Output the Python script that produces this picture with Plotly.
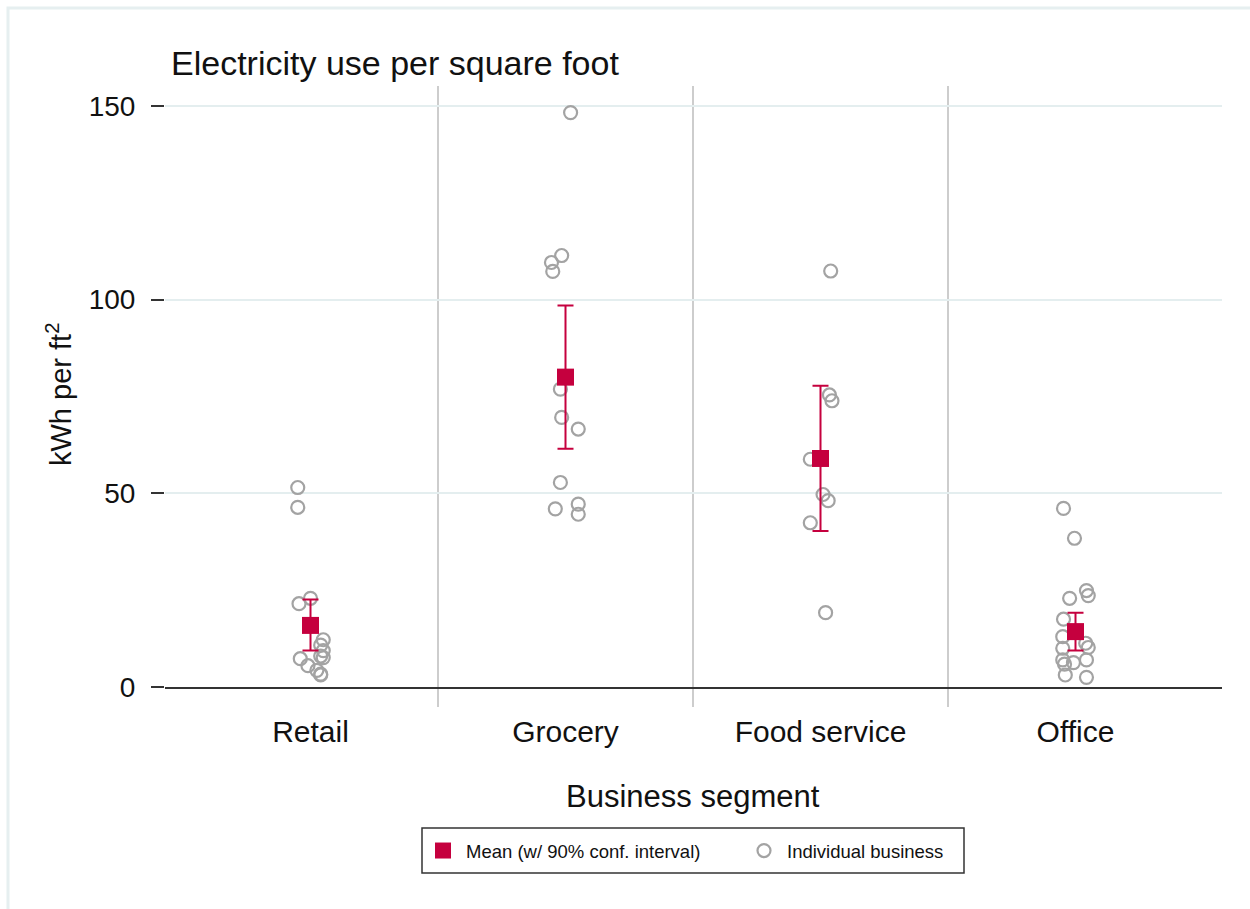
import plotly.graph_objects as go

# Business segments (x positions 0..3)
segments = ["Retail", "Grocery", "Food service", "Office"]

# Individual businesses: kWh per ft² and a small horizontal jitter within the segment
retail_vals = [51.5, 46.4, 21.5, 22.9, 12.2, 10.8, 9.4, 8.0, 7.6, 7.3, 5.5, 4.3, 3.3, 3.1]
retail_jit = [-0.05, -0.05, -0.045, 0.0, 0.05, 0.04, 0.05, 0.04, 0.05, -0.04, -0.01, 0.025, 0.04, 0.04]

grocery_vals = [148.3, 111.4, 109.6, 107.3, 76.9, 69.6, 66.6, 52.8, 46.0, 47.2, 44.6]
grocery_jit = [0.02, -0.015, -0.055, -0.05, -0.02, -0.015, 0.05, -0.02, -0.04, 0.05, 0.05]

food_vals = [107.4, 75.4, 73.9, 58.8, 49.7, 48.1, 42.4, 19.2]
food_jit = [0.04, 0.035, 0.045, -0.04, 0.01, 0.03, -0.04, 0.02]

office_vals = [46.1, 38.4, 24.9, 23.6, 22.9, 17.5, 13.0, 11.3, 10.2, 10.0, 7.0, 7.0, 6.3, 5.9, 3.1, 2.5]
office_jit = [-0.047, -0.004, 0.043, 0.05, -0.023, -0.047, -0.05, 0.04, 0.05, -0.05, -0.05, 0.043, -0.008, -0.043, -0.04, 0.043]

# Segment means with 90% confidence interval
mean_vals = [15.9, 80.0, 59.0, 14.3]
ci_low = [9.4, 61.5, 40.3, 9.4]
ci_high = [22.6, 98.5, 77.8, 19.2]

y_ticks = [0, 50, 100, 150]

FONT = "Liberation Sans, Arial, sans-serif"
RED = "#C5003E"
GREY = "#A3A3A3"

# Flatten the individual businesses into one trace
pts_x, pts_y = [], []
for i, (vals, jit) in enumerate([(retail_vals, retail_jit), (grocery_vals, grocery_jit),
                                 (food_vals, food_jit), (office_vals, office_jit)]):
    for v, j in zip(vals, jit):
        pts_x.append(i + j)
        pts_y.append(v)

fig = go.Figure()

fig.add_trace(go.Scatter(
    x=pts_x, y=pts_y, mode="markers", name="Individual business",
    marker=dict(symbol="circle-open", size=13, color=GREY, line=dict(width=2.2, color=GREY)),
    legendrank=2, hoverinfo="y",
))

fig.add_trace(go.Scatter(
    x=list(range(len(segments))), y=mean_vals, mode="markers",
    name="Mean (w/ 90% conf. interval)",
    marker=dict(symbol="square", size=17, color=RED),
    error_y=dict(type="data", symmetric=False,
                 array=[h - m for h, m in zip(ci_high, mean_vals)],
                 arrayminus=[m - l for m, l in zip(mean_vals, ci_low)],
                 color=RED, thickness=2, width=8),
    legendrank=1,
))

# Plot area in pixels: left 165, right 1222, top 86, bottom 687
L, R, T, B = 165, 1222, 86, 687
W, H = 1250, 909
pw, ph = R - L, B - T


def px_x(p):
    return (p - L) / pw


def px_y(p):
    return (B - p) / ph


shapes = []
# Segment separators
for s in [0.5, 1.5, 2.5]:
    shapes.append(dict(type="line", xref="x", yref="paper", x0=s, x1=s,
                       y0=px_y(707), y1=1, line=dict(color="#BDBDBD", width=1.5), layer="below"))
# Outer frame
shapes.append(dict(type="rect", xref="paper", yref="paper",
                   x0=px_x(8), x1=px_x(1262), y0=px_y(8), y1=px_y(921),
                   line=dict(color="#E6EFF0", width=3), fillcolor="rgba(0,0,0,0)", layer="below"))
# Legend box
shapes.append(dict(type="rect", xref="paper", yref="paper",
                   x0=px_x(422), x1=px_x(964), y0=px_y(828), y1=px_y(873),
                   line=dict(color="#333", width=1.5), fillcolor="white", layer="below"))

annotations = [
    dict(text="Electricity use per square foot", xref="paper", yref="paper",
         x=px_x(169), y=px_y(63), xanchor="left", yanchor="middle", showarrow=False,
         font=dict(family=FONT, size=34, color="#111")),
    dict(text="Business segment", xref="paper", yref="paper",
         x=px_x(693), y=px_y(796), xanchor="center", yanchor="middle", showarrow=False,
         font=dict(family=FONT, size=31, color="#111")),
    dict(text="kWh per ft<sup>2</sup>", xref="paper", yref="paper", textangle=-90,
         x=px_x(59), y=px_y(395), xanchor="center", yanchor="middle", showarrow=False,
         font=dict(family=FONT, size=29, color="#111")),
]

fig.update_layout(
    width=W, height=H,
    margin=dict(l=L, r=W - R, t=T, b=H - B),
    paper_bgcolor="white", plot_bgcolor="white",
    font=dict(family=FONT, color="#111"),
    showlegend=True,
    legend=dict(orientation="h", x=px_x(420), xanchor="left", y=px_y(851), yanchor="middle",
                borderwidth=0, bgcolor="rgba(0,0,0,0)",
                font=dict(family=FONT, size=18.5, color="#111"), itemwidth=36,
                entrywidth=270, tracegroupgap=0),
    shapes=shapes, annotations=annotations,
)

fig.update_xaxes(
    range=[(L - 310.5) / 255, (R - 310.5) / 255],
    tickvals=list(range(len(segments))), ticktext=segments,
    tickfont=dict(family=FONT, size=30, color="#111"),
    ticks="", showgrid=False, zeroline=False,
    showline=True, linecolor="#333", linewidth=2,
    ticklabelstandoff=17,
)

fig.update_yaxes(
    range=[0, 150 + (106 - T) / 3.873],
    tickvals=y_ticks, ticktext=[str(v) for v in y_ticks],
    tickfont=dict(family=FONT, size=28, color="#111"),
    ticks="outside", ticklen=13, tickwidth=2, tickcolor="#333",
    showgrid=True, gridcolor="#E4EEEF", gridwidth=1.5,
    zeroline=False, showline=False,
    ticklabelstandoff=10,
)

fig.write_html("out.html")
